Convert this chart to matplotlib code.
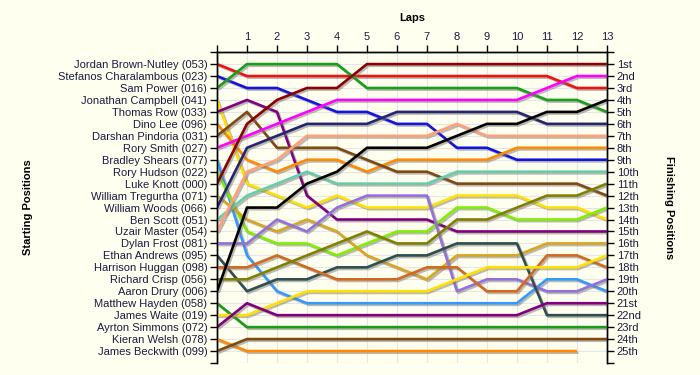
"""Lap chart: position of each driver at the end of every lap."""
import matplotlib
matplotlib.use("Agg")
import matplotlib.pyplot as plt
import matplotlib.patheffects as pe

# --- Data ---
STARTERS = [
    "Jordan Brown-Nutley (053)",
    "Stefanos Charalambous (023)",
    "Sam Power (016)",
    "Jonathan Campbell (041)",
    "Thomas Row (033)",
    "Dino Lee (096)",
    "Darshan Pindoria (031)",
    "Rory Smith (027)",
    "Bradley Shears (077)",
    "Rory Hudson (022)",
    "Luke Knott (000)",
    "William Tregurtha (071)",
    "William Woods (066)",
    "Ben Scott (051)",
    "Uzair Master (054)",
    "Dylan Frost (081)",
    "Ethan Andrews (095)",
    "Harrison Huggan (098)",
    "Richard Crisp (056)",
    "Aaron Drury (006)",
    "Matthew Hayden (058)",
    "James Waite (019)",
    "Ayrton Simmons (072)",
    "Kieran Welsh (078)",
    "James Beckwith (099)",
]

FINISH_LABELS = [
    "1st", "2nd", "3rd", "4th", "5th", "6th", "7th", "8th", "9th", "10th",
    "11th", "12th", "13th", "14th", "15th", "16th", "17th", "18th", "19th",
    "20th", "21st", "22nd", "23rd", "24th", "25th",
]

LAP_LABELS = [str(i) for i in range(1, 14)]

# position after lap 0..13, one list per driver (same order as STARTERS)
POSITIONS = [
    [1, 2, 2, 2, 2, 2, 2, 2, 2, 2, 2, 2, 3, 3],
    [2, 3, 3, 4, 5, 5, 6, 6, 8, 8, 9, 9, 9, 9],
    [3, 1, 1, 1, 1, 3, 3, 3, 3, 3, 3, 4, 4, 5],
    [4, 11, 12, 13, 12, 13, 13, 13, 12, 12, 12, 13, 13, 14],
    [5, 4, 5, 12, 14, 14, 14, 14, 15, 15, 15, 15, 15, 15],
    [6, 9, 10, 9, 9, 10, 9, 9, 9, 9, 8, 8, 8, 8],
    [7, 5, 8, 8, 8, 9, 10, 10, 11, 11, 11, 11, 11, 12],
    [8, 7, 6, 5, 4, 4, 4, 4, 4, 4, 4, 3, 2, 2],
    [9, 17, 20, 21, 21, 21, 21, 21, 21, 21, 21, 19, 19, 20],
    [10, 15, 16, 16, 17, 16, 15, 15, 13, 13, 14, 14, 14, 13],
    [11, 6, 4, 3, 3, 1, 1, 1, 1, 1, 1, 1, 1, 1],
    [12, 14, 15, 14, 15, 17, 18, 19, 17, 17, 17, 16, 16, 16],
    [13, 8, 7, 6, 6, 6, 5, 5, 5, 5, 5, 6, 6, 6],
    [14, 12, 11, 10, 11, 11, 11, 11, 10, 10, 10, 10, 10, 10],
    [15, 10, 9, 7, 7, 7, 7, 7, 6, 7, 7, 7, 7, 7],
    [16, 16, 14, 15, 13, 12, 12, 12, 20, 19, 19, 20, 20, 19],
    [17, 20, 19, 19, 18, 18, 17, 17, 16, 16, 16, 22, 22, 22],
    [18, 18, 17, 18, 19, 19, 19, 18, 18, 20, 20, 17, 17, 18],
    [19, 19, 18, 17, 16, 15, 16, 16, 14, 14, 13, 12, 12, 11],
    [20, 13, 13, 11, 10, 8, 8, 8, 7, 6, 6, 5, 5, 4],
    [21, 23, 23, 23, 23, 23, 23, 23, 23, 23, 23, 23, 23, 23],
    [22, 22, 21, 20, 20, 20, 20, 20, 19, 18, 18, 18, 18, 17],
    [23, 21, 22, 22, 22, 22, 22, 22, 22, 22, 22, 21, 21, 21],
    [24, 25, 25, 25, 25, 25, 25, 25, 25, 25, 25, 25, 25],  # retired before lap 13
    [25, 24, 24, 24, 24, 24, 24, 24, 24, 24, 24, 24, 24, 24],
]

COLORS = [
    "#ee1111", "#1414e0", "#1a9e1a", "#ffe000", "#800080",
    "#ff8a00", "#7f4a10", "#ff00ff", "#3399ff", "#80ee00",
    "#8b0000", "#daa520", "#26266e", "#66cdaa", "#ffa07a",
    "#9370db", "#2f4f4f", "#d2691e", "#808000", "#000000",
    "#1a9e1a", "#ffe000", "#800080", "#ff8a00", "#7f4a10",
]

BG = "#fffff0"
TEXT = "#1a1a40"


def main() -> None:
    plt.rcParams["font.family"] = ["Liberation Sans", "DejaVu Sans"]
    fig = plt.figure(figsize=(7, 3.75), dpi=100, facecolor=BG)
    ax = fig.add_axes([0.31, 0.032, 0.557, 0.829], facecolor=BG)

    shadow = [pe.SimpleLineShadow(offset=(1.2, -1.2), shadow_color="#777777", alpha=0.5),
              pe.Normal()]
    for pos, col in zip(POSITIONS, COLORS):
        laps = list(range(len(pos)))
        ax.plot(laps, pos, color=col, linewidth=1.9, solid_capstyle="butt",
                path_effects=shadow, zorder=3)

    ax.set_xlim(0, 13)
    ax.set_ylim(26, 0)

    # left: starting grid
    ax.set_yticks(range(0, 27))
    ax.set_yticklabels([""] + STARTERS + [""], fontsize=8, color=TEXT)
    ax.set_xticks(range(0, 14))
    ax.set_xticklabels([""] + LAP_LABELS, fontsize=8, color=TEXT)
    ax.xaxis.tick_top()
    ax.tick_params(axis="both", direction="out", length=5, width=1, color="black", pad=2)

    # right: finishing order
    ax2 = ax.twinx()
    ax2.set_ylim(26, 0)
    ax2.set_yticks(range(0, 27))
    ax2.set_yticklabels([""] + FINISH_LABELS + [""], fontsize=8, color=TEXT)
    ax2.tick_params(axis="y", direction="out", length=5, width=1, color="black", pad=2)

    for a in (ax, ax2):
        a.spines["bottom"].set_visible(False)
        a.spines["left"].set_linewidth(1)
        a.spines["right"].set_linewidth(1)
        a.spines["top"].set_linewidth(1)

    ax.grid(True, color="#e6e6e6", linewidth=0.8, zorder=0)
    ax.set_axisbelow(True)

    fig.text(0.589, 0.952, "Laps", ha="center", va="center",
             fontsize=8, fontweight="bold", color="black")
    fig.text(0.04, 0.447, "Starting Positions", ha="center", va="center",
             rotation=90, fontsize=8, fontweight="bold", color="black")
    fig.text(0.955, 0.447, "Finishing Positions", ha="center", va="center",
             rotation=270, fontsize=8, fontweight="bold", color="black")

    fig.savefig("out.png", dpi=100, facecolor=BG)
    plt.close(fig)


if __name__ == "__main__":
    main()
